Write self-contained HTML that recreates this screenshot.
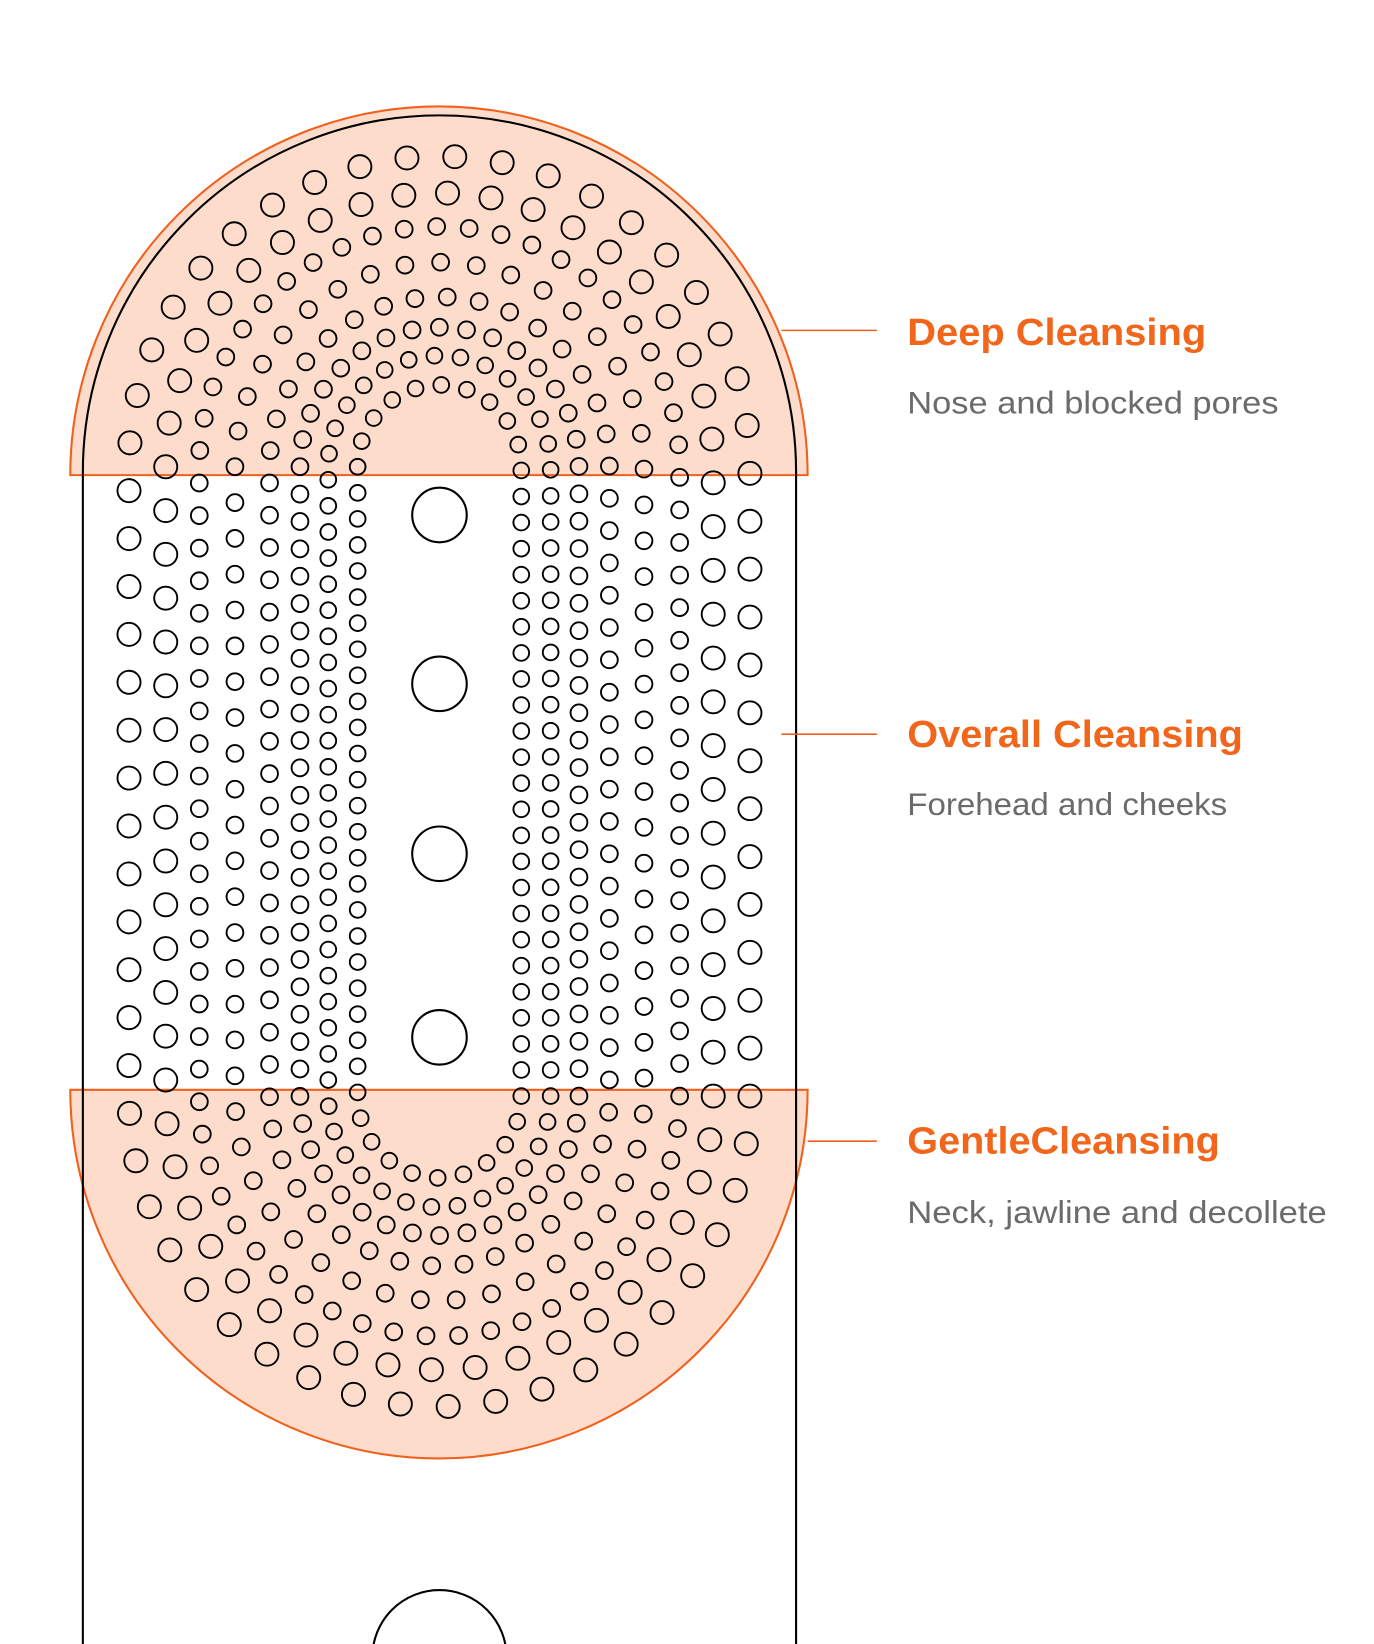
<!DOCTYPE html>
<html><head><meta charset="utf-8"><style>html,body{margin:0;padding:0;background:#fff}svg{display:block}</style></head>
<body>
<svg id="s" width="1374" height="1644" viewBox="0 0 1310 1567.4" preserveAspectRatio="none" xmlns="http://www.w3.org/2000/svg">
<rect width="1310" height="1568" fill="#fff"/>
<path d="M67,453 A351.5,351.5 0 0 1 770,453 Z" fill="#fddccb" stroke="#f0611e" stroke-width="2"/>
<path d="M67,1039 L770,1039 A351.5,351.5 0 0 1 67,1039 Z" fill="#fddccb" stroke="#f0611e" stroke-width="2"/>
<path d="M79,1568 L79,450 A340,340 0 0 1 759,450 L759,1568" fill="none" stroke="#000" stroke-width="2"/>
<circle cx="419" cy="1580" r="64" fill="#fff" stroke="#000" stroke-width="2"/>
<g id="h" fill="none" stroke="#000" stroke-width="1.8"></g>
<g fill="none" stroke="#000" stroke-width="2">
<circle cx="419" cy="491" r="26"/><circle cx="419" cy="652" r="26"/><circle cx="419" cy="814" r="26"/><circle cx="419" cy="989" r="26"/>
</g>
<g stroke="#f0611e" stroke-width="1.5">
<line x1="745" y1="315" x2="836" y2="315"/><line x1="745" y1="700" x2="836" y2="700"/><line x1="770" y1="1088" x2="836" y2="1088"/>
</g>
<g font-family="Liberation Sans, sans-serif">
<text x="865" y="329" font-size="36" font-weight="bold" fill="#f2661c" textLength="285" lengthAdjust="spacingAndGlyphs">Deep Cleansing</text>
<text x="865" y="394" font-size="30" fill="#6b6b6b" textLength="354" lengthAdjust="spacingAndGlyphs">Nose and blocked pores</text>
<text x="865" y="712" font-size="36" font-weight="bold" fill="#f2661c" textLength="320" lengthAdjust="spacingAndGlyphs">Overall Cleansing</text>
<text x="865" y="777" font-size="30" fill="#6b6b6b" textLength="305" lengthAdjust="spacingAndGlyphs">Forehead and cheeks</text>
<text x="865" y="1100" font-size="36" font-weight="bold" fill="#f2661c" textLength="298" lengthAdjust="spacingAndGlyphs">GentleCleansing</text>
<text x="865" y="1166" font-size="30" fill="#6b6b6b" textLength="400" lengthAdjust="spacingAndGlyphs">Neck, jawline and decollete</text>
</g>
</svg>
<script>
(function(){
var g=document.getElementById('h'),ns='http://www.w3.org/2000/svg';
var cx=419,ty=445,by=1045;
var rings=[[78,25,7.5],[106,25,7.5],[133,26,8],[162,31,8],[195,34,8],[229,31,8],[261,42,11],[296,46,11]];
rings.forEach(function(r,i){
 var R=r[0],sp=r[1],hr=r[2];
 var arc=Math.PI*R,lin=by-ty,P=2*arc+2*lin;
 var n=Math.round(P/sp),d=P/n,off=(i%2)*d/2;
 for(var k=0;k<n;k++){
  var s=k*d+off,x,y;
  if(s<arc){var a=Math.PI-s/R;x=cx+R*Math.cos(a);y=ty-R*Math.sin(a);}
  else if(s<arc+lin){x=cx+R;y=ty+(s-arc);}
  else if(s<2*arc+lin){var a2=(s-arc-lin)/R;x=cx+R*Math.cos(a2);y=by+R*Math.sin(a2);}
  else{x=cx-R;y=by-(s-2*arc-lin);}
  var c=document.createElementNS(ns,'circle');
  c.setAttribute('cx',x.toFixed(1));c.setAttribute('cy',y.toFixed(1));c.setAttribute('r',hr);
  g.appendChild(c);
 }
});
})();
</script>
</body></html>
